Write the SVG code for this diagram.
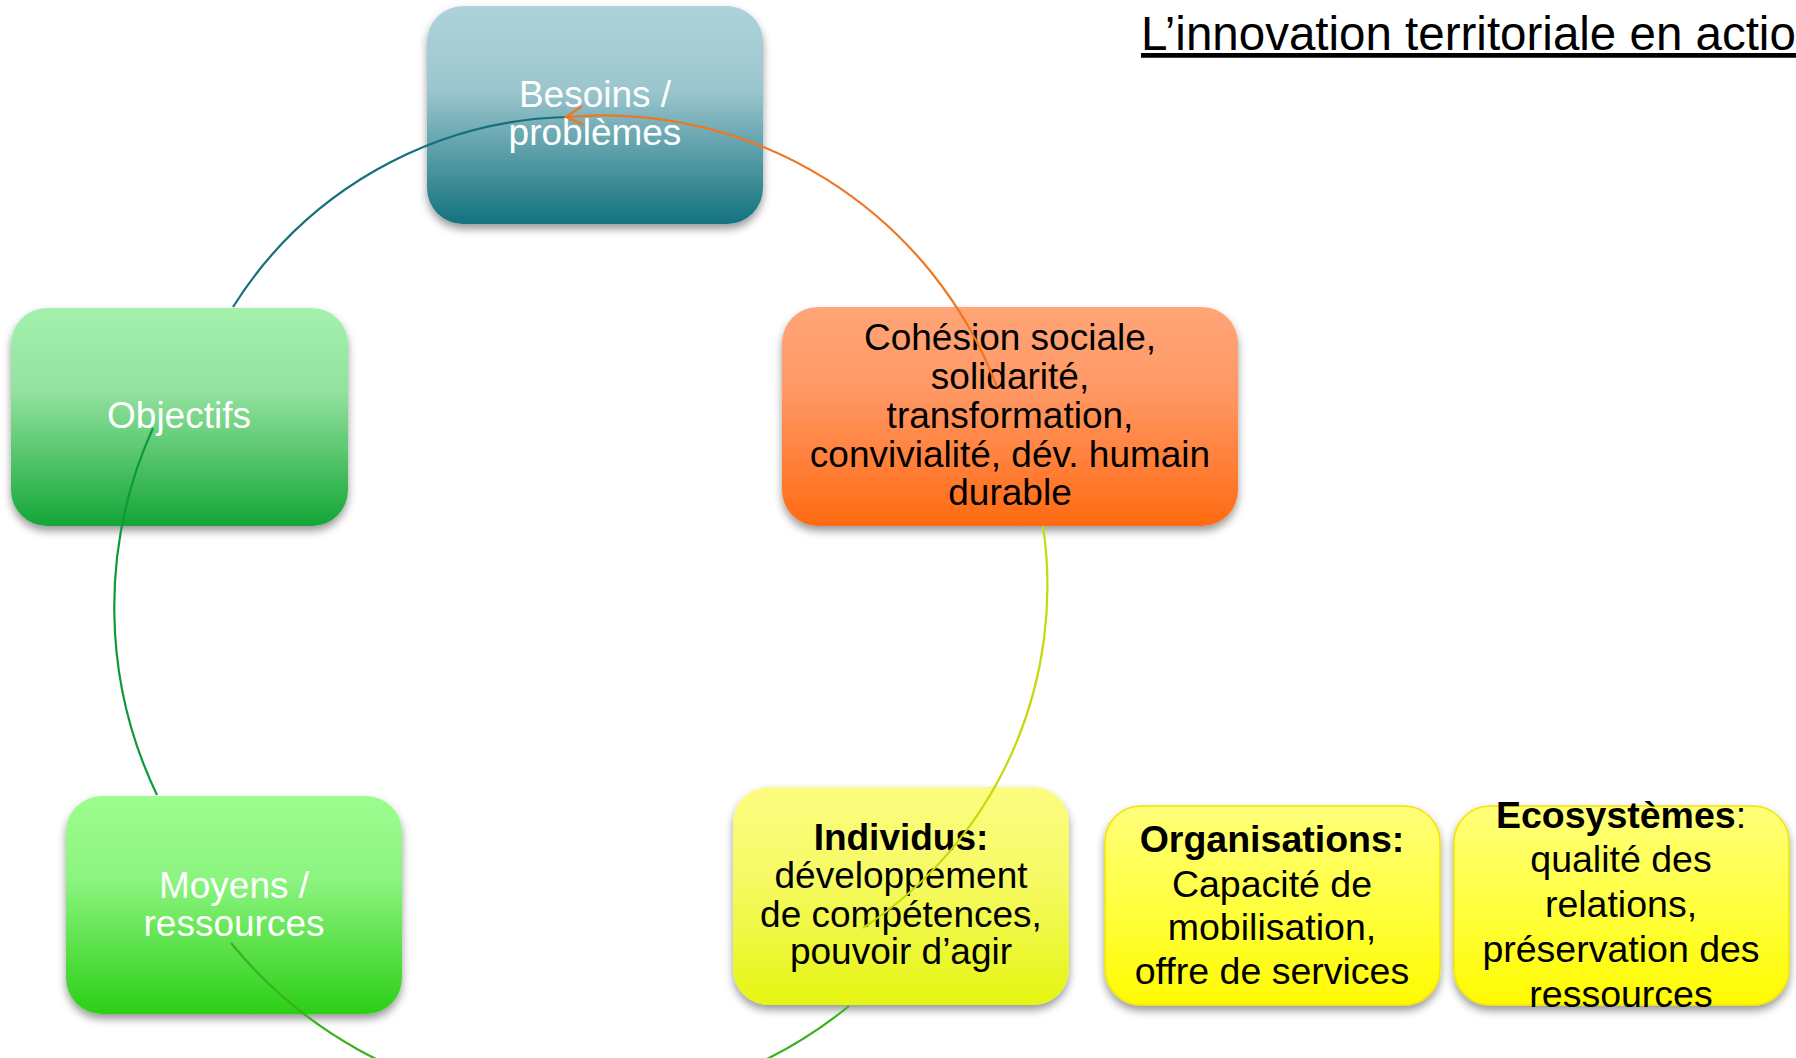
<svg xmlns="http://www.w3.org/2000/svg" width="1796" height="1058" viewBox="0 0 1796 1058">
<style>
.lbl{font-family:"Liberation Sans",Arial,sans-serif;font-size:37px;text-anchor:middle}
.w{fill:#ffffff}
.k{fill:#000000}
.big{font-size:37.5px}
.b{font-weight:bold}
.box{filter:url(#sh)}
.arc{fill:none;stroke-width:2.2}
.title{font-family:"Liberation Sans",Arial,sans-serif;font-size:47.5px;fill:#000;text-decoration:underline}
</style>
<defs>
<filter id="sh" x="-10%" y="-10%" width="120%" height="130%">
<feDropShadow dx="0" dy="5" stdDeviation="4" flood-color="#000" flood-opacity="0.4"/>
</filter>
<linearGradient id="gBes" x1="0" y1="0" x2="0" y2="1">
<stop offset="0" stop-color="#AED3DA"/><stop offset="0.38" stop-color="#9CC6CE"/><stop offset="1" stop-color="#12727E"/>
</linearGradient>
<linearGradient id="gObj" x1="0" y1="0" x2="0" y2="1">
<stop offset="0" stop-color="#A3F1AD"/><stop offset="0.38" stop-color="#93E29F"/><stop offset="1" stop-color="#14A636"/>
</linearGradient>
<linearGradient id="gCoh" x1="0" y1="0" x2="0" y2="1">
<stop offset="0" stop-color="#FFA577"/><stop offset="0.38" stop-color="#FF9865"/><stop offset="1" stop-color="#FF6A12"/>
</linearGradient>
<linearGradient id="gMoy" x1="0" y1="0" x2="0" y2="1">
<stop offset="0" stop-color="#9DFD8F"/><stop offset="0.38" stop-color="#8CF480"/><stop offset="1" stop-color="#2CCF16"/>
</linearGradient>
<linearGradient id="gInd" x1="0" y1="0" x2="0" y2="1">
<stop offset="0" stop-color="#FCFC80"/><stop offset="0.4" stop-color="#F7FA66"/><stop offset="1" stop-color="#E5F512"/>
</linearGradient>
<linearGradient id="gYel" x1="0" y1="0" x2="0" y2="1">
<stop offset="0" stop-color="#FFFF7A"/><stop offset="0.5" stop-color="#FFFF40"/><stop offset="1" stop-color="#FFFA00"/>
</linearGradient>
<marker id="arr" markerUnits="userSpaceOnUse" viewBox="-20 -12 22 24" refX="0" refY="0" markerWidth="22" markerHeight="24" orient="auto">
<path d="M -17 -9.5 L 0 0 L -17 9.5" fill="none" stroke="#EE7722" stroke-width="2.5"/>
</marker>
</defs>
<rect width="1796" height="1058" fill="#ffffff"/>

<text class="title" x="1141" y="50">L’innovation territoriale en action</text>

<g id="besoins">
<rect class="box" x="427" y="6" width="336" height="218" rx="36" fill="url(#gBes)"/>
<text class="lbl w" x="595" y="107">Besoins /</text>
<text class="lbl w" x="595" y="145">problèmes</text>
</g>
<g id="objectifs">
<rect class="box" x="11" y="308" width="337" height="218" rx="36" fill="url(#gObj)"/>
<text class="lbl w" x="179" y="428">Objectifs</text>
</g>
<g id="moyens">
<rect class="box" x="66" y="796" width="336" height="218" rx="36" fill="url(#gMoy)"/>
<text class="lbl w" x="234" y="898">Moyens /</text>
<text class="lbl w" x="234" y="936">ressources</text>
</g>
<g id="cohesion">
<rect class="box" x="782" y="307" width="456" height="219" rx="36" fill="url(#gCoh)"/>
<text class="lbl k" x="1010" y="350">Cohésion sociale,</text>
<text class="lbl k" x="1010" y="389">solidarité,</text>
<text class="lbl k" x="1010" y="428">transformation,</text>
<text class="lbl k" x="1010" y="467">convivialité, dév. humain</text>
<text class="lbl k" x="1010" y="505">durable</text>
</g>
<g id="individus">
<rect class="box" x="733" y="787" width="336" height="218" rx="36" fill="url(#gInd)"/>
<text class="lbl k b" x="901" y="850">Individus:</text>
<text class="lbl k" x="901" y="888">développement</text>
<text class="lbl k" x="901" y="927">de compétences,</text>
<text class="lbl k" x="901" y="964">pouvoir d’agir</text>
</g>
<g id="organisations">
<rect class="box" x="1105" y="806" width="335" height="199" rx="36" fill="url(#gYel)" stroke="#F2E400" stroke-width="1.5"/>
<text class="lbl big k b" x="1272" y="852">Organisations:</text>
<text class="lbl big k" x="1272" y="897">Capacité de</text>
<text class="lbl big k" x="1272" y="940">mobilisation,</text>
<text class="lbl big k" x="1272" y="984">offre de services</text>
</g>
<g id="ecosystemes">
<rect class="box" x="1454" y="806" width="335" height="199" rx="36" fill="url(#gYel)" stroke="#F2E400" stroke-width="1.5"/>
<text class="lbl big k" x="1621" y="828"><tspan class="b">Ecosystèmes</tspan>:</text>
<text class="lbl big k" x="1621" y="872">qualité des</text>
<text class="lbl big k" x="1621" y="917">relations,</text>
<text class="lbl big k" x="1621" y="962">préservation des</text>
<text class="lbl big k" x="1621" y="1007">ressources</text>
</g>

<g id="connectors">
<path class="arc" stroke="#16707C" d="M 566 117 A 406 406 0 0 0 233 307"/>
<path class="arc" stroke="#0E9A3C" d="M 153 428 A 434 434 0 0 0 157 795"/>
<path class="arc" stroke="#3AB120" d="M 231 943 A 439 439 0 0 0 849 1006"/>
<path class="arc" stroke="#C5D90B" d="M 863 928 A 409 409 0 0 0 1043 526"/>
<path class="arc" stroke="#EE7722" d="M 997 387 A 421 421 0 0 0 566 117" marker-end="url(#arr)"/>
</g>
</svg>
